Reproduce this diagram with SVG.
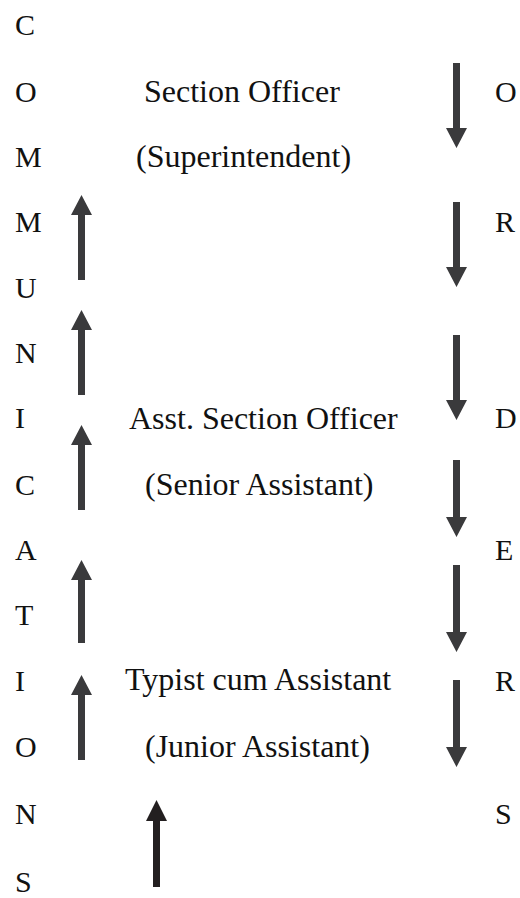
<svg xmlns="http://www.w3.org/2000/svg" width="520" height="898" viewBox="0 0 520 898">
<style>
.l{font-family:"Liberation Serif","Times New Roman",serif;font-size:30px;fill:#111}
.t{font-family:"Liberation Serif","Times New Roman",serif;font-size:32px;fill:#111}
.a{fill:#3a3a3c}
.b{fill:#231f20}
</style>
<rect width="520" height="898" fill="#fff"/>
<g id="communications">
<text class="l" x="15" y="35">C</text>
<text class="l" x="15" y="102">O</text>
<text class="l" x="15" y="167">M</text>
<text class="l" x="15" y="232">M</text>
<text class="l" x="15" y="298">U</text>
<text class="l" x="15" y="363">N</text>
<text class="l" x="15" y="428">I</text>
<text class="l" x="15" y="495">C</text>
<text class="l" x="15" y="560">A</text>
<text class="l" x="15" y="625">T</text>
<text class="l" x="15" y="691">I</text>
<text class="l" x="15" y="757">O</text>
<text class="l" x="15" y="824">N</text>
<text class="l" x="15" y="892">S</text>
</g>
<g id="orders">
<text class="l" x="495" y="102">O</text>
<text class="l" x="495" y="232">R</text>
<text class="l" x="495" y="428">D</text>
<text class="l" x="495" y="560">E</text>
<text class="l" x="495" y="691">R</text>
<text class="l" x="495" y="824">S</text>
</g>
<g id="section-officer">
<text class="t" x="144" y="102">Section Officer</text>
<text class="t" x="136" y="167">(Superintendent)</text>
</g>
<g id="asst-section-officer">
<text class="t" x="129" y="429">Asst. Section Officer</text>
<text class="t" x="145" y="495">(Senior Assistant)</text>
</g>
<g id="typist-cum-assistant">
<text class="t" x="125" y="690">Typist cum Assistant</text>
<text class="t" x="145" y="757">(Junior Assistant)</text>
</g>
<g id="connectors">
<path class="a" d="M78,280 V215 H71 L81.5,195 L92,215 H85 V280 Z"/>
<path class="a" d="M78,395 V330 H71 L81.5,310 L92,330 H85 V395 Z"/>
<path class="a" d="M78,510 V445 H71 L81.5,425 L92,445 H85 V510 Z"/>
<path class="a" d="M78,643 V580 H71 L81.5,560 L92,580 H85 V643 Z"/>
<path class="a" d="M78,760 V695 H71 L81.5,675 L92,695 H85 V760 Z"/>
<path class="b" d="M153,887 V821 H146 L156.5,800 L167,821 H160 V887 Z"/>
<path class="a" d="M453,63 V128 H446 L456.5,148 L467,128 H460 V63 Z"/>
<path class="a" d="M453,202 V267 H446 L456.5,287 L467,267 H460 V202 Z"/>
<path class="a" d="M453,335 V400 H446 L456.5,420 L467,400 H460 V335 Z"/>
<path class="a" d="M453,460 V517 H446 L456.5,537 L467,517 H460 V460 Z"/>
<path class="a" d="M453,565 V632 H446 L456.5,652 L467,632 H460 V565 Z"/>
<path class="a" d="M453,680 V747 H446 L456.5,767 L467,747 H460 V680 Z"/>
</g>
</svg>
